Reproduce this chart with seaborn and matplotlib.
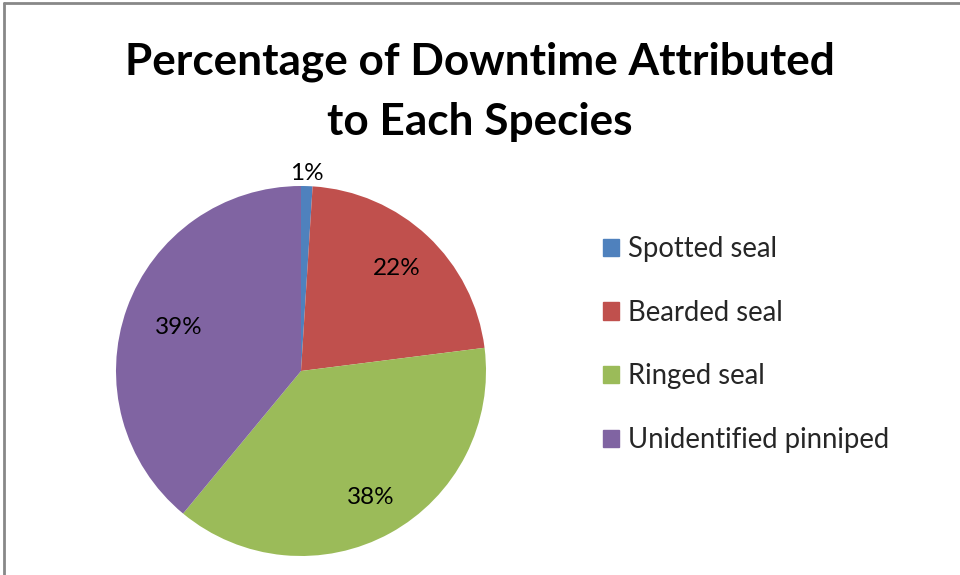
import matplotlib
matplotlib.use("Agg")
import matplotlib.pyplot as plt
import numpy as np
import seaborn as sns
from matplotlib.lines import Line2D

# data
species = ["Spotted seal", "Bearded seal", "Ringed seal", "Unidentified pinniped"]
downtime_pct = [1, 22, 38, 39]
slice_colors = ["#4F81BD", "#C0504D", "#9BBB59", "#8064A2"]

sns.set_theme(style="white")
plt.rcParams['font.family'] = ['Lato', 'DejaVu Sans']

fig = plt.figure(figsize=(9.6, 5.75), dpi=100)
fig.patch.set_facecolor("white")

# pie axes sized so the disk sits where it does in the reference
ax = fig.add_axes([116 / 960, 19 / 575, 370 / 960, 370 / 575])
wedges, _ = ax.pie(downtime_pct,
                   colors=slice_colors,
                   startangle=90,
                   counterclock=False,
                   radius=1.0,
                   wedgeprops={'linewidth': 0})
ax.set_xlim(-1, 1)
ax.set_ylim(-1, 1)
ax.set_aspect("equal")
ax.axis("off")

# percentage labels, placed along each slice's mid angle
label_dist = [1.07, 0.76, 0.78, 0.70]
for w, v, d in zip(wedges, downtime_pct, label_dist):
    mid = np.deg2rad((w.theta1 + w.theta2) / 2)
    ax.text(d * np.cos(mid), d * np.sin(mid), f"{v}%",
            ha="center", va="center", fontsize=17.5, color="black")

fig.text(0.5, 1 - 92 / 575, "Percentage of Downtime Attributed\nto Each Species",
         ha="center", va="center", fontsize=31.8, fontweight="bold",
         linespacing=1.6, color="black")

handles = [plt.Rectangle((0, 0), 1, 1, color=c) for c in slice_colors]
fig.legend(handles, species,
           loc="upper left",
           bbox_to_anchor=(603 / 960, 1 - 236 / 575),
           frameon=False,
           borderaxespad=0,
           borderpad=0,
           fontsize=19.8,
           handlelength=0.58,
           handleheight=0.58,
           handletextpad=0.33,
           labelspacing=1.37)

# chart frame: only the top and left edges show in the crop
fig.add_artist(Line2D([3.5 / 960, 3.5 / 960], [0, 1 - 2.5 / 575], color="#888888", lw=2))
fig.add_artist(Line2D([3.5 / 960, 1], [1 - 2.5 / 575, 1 - 2.5 / 575], color="#888888", lw=2))

plt.savefig("out.png", dpi=100)
